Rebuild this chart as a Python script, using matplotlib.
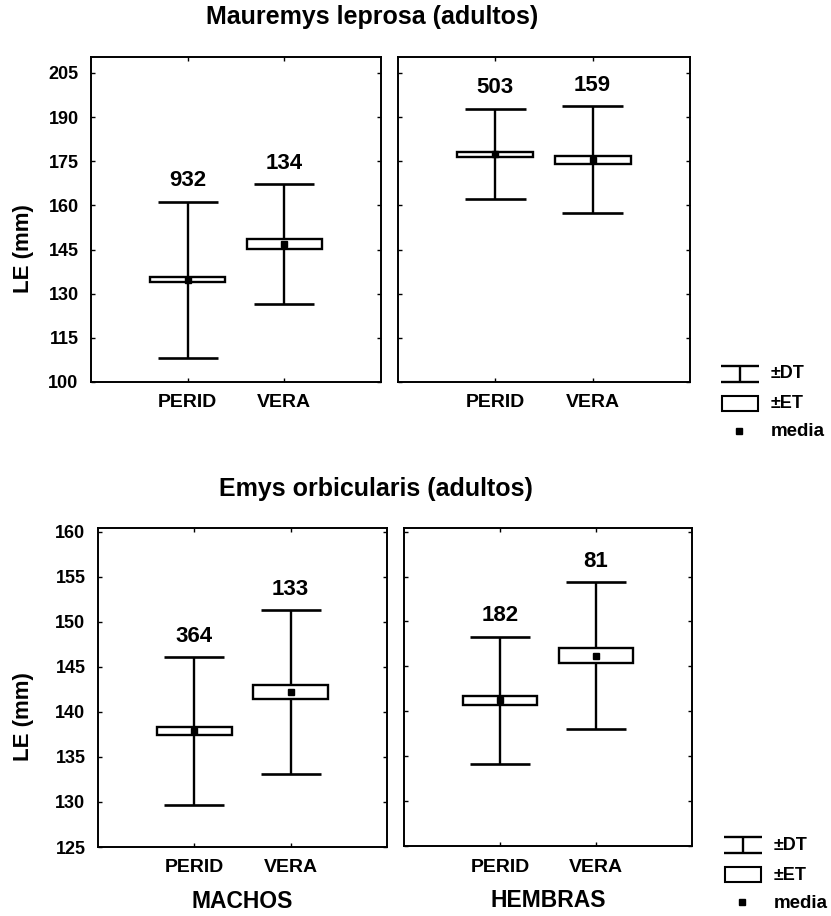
import matplotlib.pyplot as plt
from matplotlib.patches import Rectangle

plt.rcParams['font.family'] = ['Liberation Sans', 'DejaVu Sans']
plt.rcParams['font.weight'] = 'bold'

grupos = ['PERID', 'VERA']

# Mauremys leprosa (adultos): media, desviacion tipica, error tipico, n
maur_machos_media = [134.8, 146.9]
maur_machos_dt = [26.5, 20.4]
maur_machos_et = [0.9, 1.7]
maur_machos_n = [932, 134]

maur_hembras_media = [177.4, 175.5]
maur_hembras_dt = [15.4, 18.1]
maur_hembras_et = [0.8, 1.4]
maur_hembras_n = [503, 159]

# Emys orbicularis (adultos)
emys_machos_media = [137.9, 142.2]
emys_machos_dt = [8.2, 9.1]
emys_machos_et = [0.42, 0.78]
emys_machos_n = [364, 133]

emys_hembras_media = [141.2, 146.2]
emys_hembras_dt = [7.1, 8.15]
emys_hembras_et = [0.5, 0.88]
emys_hembras_n = [182, 81]

maur_yticks = [100, 115, 130, 145, 160, 175, 190, 205]
emys_yticks = [125, 130, 135, 140, 145, 150, 155, 160]


def panel(ax, media, dt, et, n, ylim, yticks, labels=True):
    xs = [1, 2]
    for x, m, s, e, k in zip(xs, media, dt, et, n):
        ax.vlines(x, m - s, m + s, color='black', lw=1.7, zorder=2)
        ax.hlines([m - s, m + s], x - 0.31, x + 0.31, color='black', lw=1.9, zorder=2)
        ax.add_patch(Rectangle((x - 0.39, m - e), 0.78, 2 * e, facecolor='white',
                               edgecolor='black', lw=1.7, zorder=3))
        ax.plot(x, m, 's', color='black', ms=4.5, zorder=4)
        ax.annotate(str(k), (x, m + s), xytext=(0, 15), textcoords='offset points',
                    ha='center', va='center', fontsize=16, fontweight='bold')
    ax.set_xlim(0, 3)
    ax.set_ylim(*ylim)
    ax.set_xticks(xs)
    ax.set_xticklabels(grupos, fontsize=14)
    ax.set_yticks(yticks)
    ax.tick_params(direction='in', length=3, top=True, right=True, labelsize=13, width=1)
    ax.tick_params(axis='x', pad=9, labelsize=14)
    ax.tick_params(axis='y', pad=9)
    if not labels:
        ax.set_yticklabels([])
    for sp in ax.spines.values():
        sp.set_linewidth(1.4)


def leyenda(fig, x0, y0):
    # simbolos dibujados en pixeles de la figura
    lg = fig.add_axes([0, 0, 1, 1], zorder=-1)
    lg.set_xlim(0, 831)
    lg.set_ylim(916, 0)
    lg.axis('off')
    lg.hlines([y0, y0 + 16], x0, x0 + 38, color='black', lw=1.7)
    lg.vlines(x0 + 19, y0, y0 + 16, color='black', lw=1.7)
    lg.add_patch(Rectangle((x0 + 1, y0 + 30), 36, 15, facecolor='white',
                           edgecolor='black', lw=1.5))
    lg.plot(x0 + 18, y0 + 65, 's', color='black', ms=4.5)
    tx = x0 + 50
    lg.text(tx, y0 + 8, '±DT', fontsize=13, va='center')
    lg.text(tx, y0 + 38, '±ET', fontsize=13, va='center')
    lg.text(tx, y0 + 66, 'media', fontsize=13.5, va='center')


fig = plt.figure(figsize=(8.31, 9.16), dpi=100)
W, H = 831, 916

ax1 = fig.add_axes([91 / W, 1 - 382 / H, 290 / W, 325 / H])
ax2 = fig.add_axes([398 / W, 1 - 382 / H, 292 / W, 325 / H])
ax3 = fig.add_axes([98 / W, 1 - 847 / H, 289 / W, 319 / H])
ax4 = fig.add_axes([404 / W, 1 - 846 / H, 288 / W, 318 / H])

panel(ax1, maur_machos_media, maur_machos_dt, maur_machos_et, maur_machos_n,
      (100, 210.4), maur_yticks)
panel(ax2, maur_hembras_media, maur_hembras_dt, maur_hembras_et, maur_hembras_n,
      (100, 210.4), maur_yticks, labels=False)
panel(ax3, emys_machos_media, emys_machos_dt, emys_machos_et, emys_machos_n,
      (125, 160.4), emys_yticks)
panel(ax4, emys_hembras_media, emys_hembras_dt, emys_hembras_et, emys_hembras_n,
      (125, 160.4), emys_yticks, labels=False)

for ax in (ax1, ax3):
    ax.set_ylabel('LE (mm)', fontsize=16, fontweight='bold')
ax1.yaxis.set_label_coords(-0.195, 0.41)
ax3.yaxis.set_label_coords(-0.22, 0.41)

ax3.set_xlabel('MACHOS', fontsize=16.5, fontweight='bold', labelpad=10)
ax4.set_xlabel('HEMBRAS', fontsize=16.5, fontweight='bold', labelpad=10)

fig.text(372 / W, 1 - 17 / H, 'Mauremys leprosa (adultos)', fontsize=18,
         fontweight='bold', ha='center', va='center')
fig.text(376 / W, 1 - 489 / H, 'Emys orbicularis (adultos)', fontsize=18,
         fontweight='bold', ha='center', va='center')

leyenda(fig, 721, 366)
leyenda(fig, 724, 837)

fig.savefig('out.png', dpi=100)
